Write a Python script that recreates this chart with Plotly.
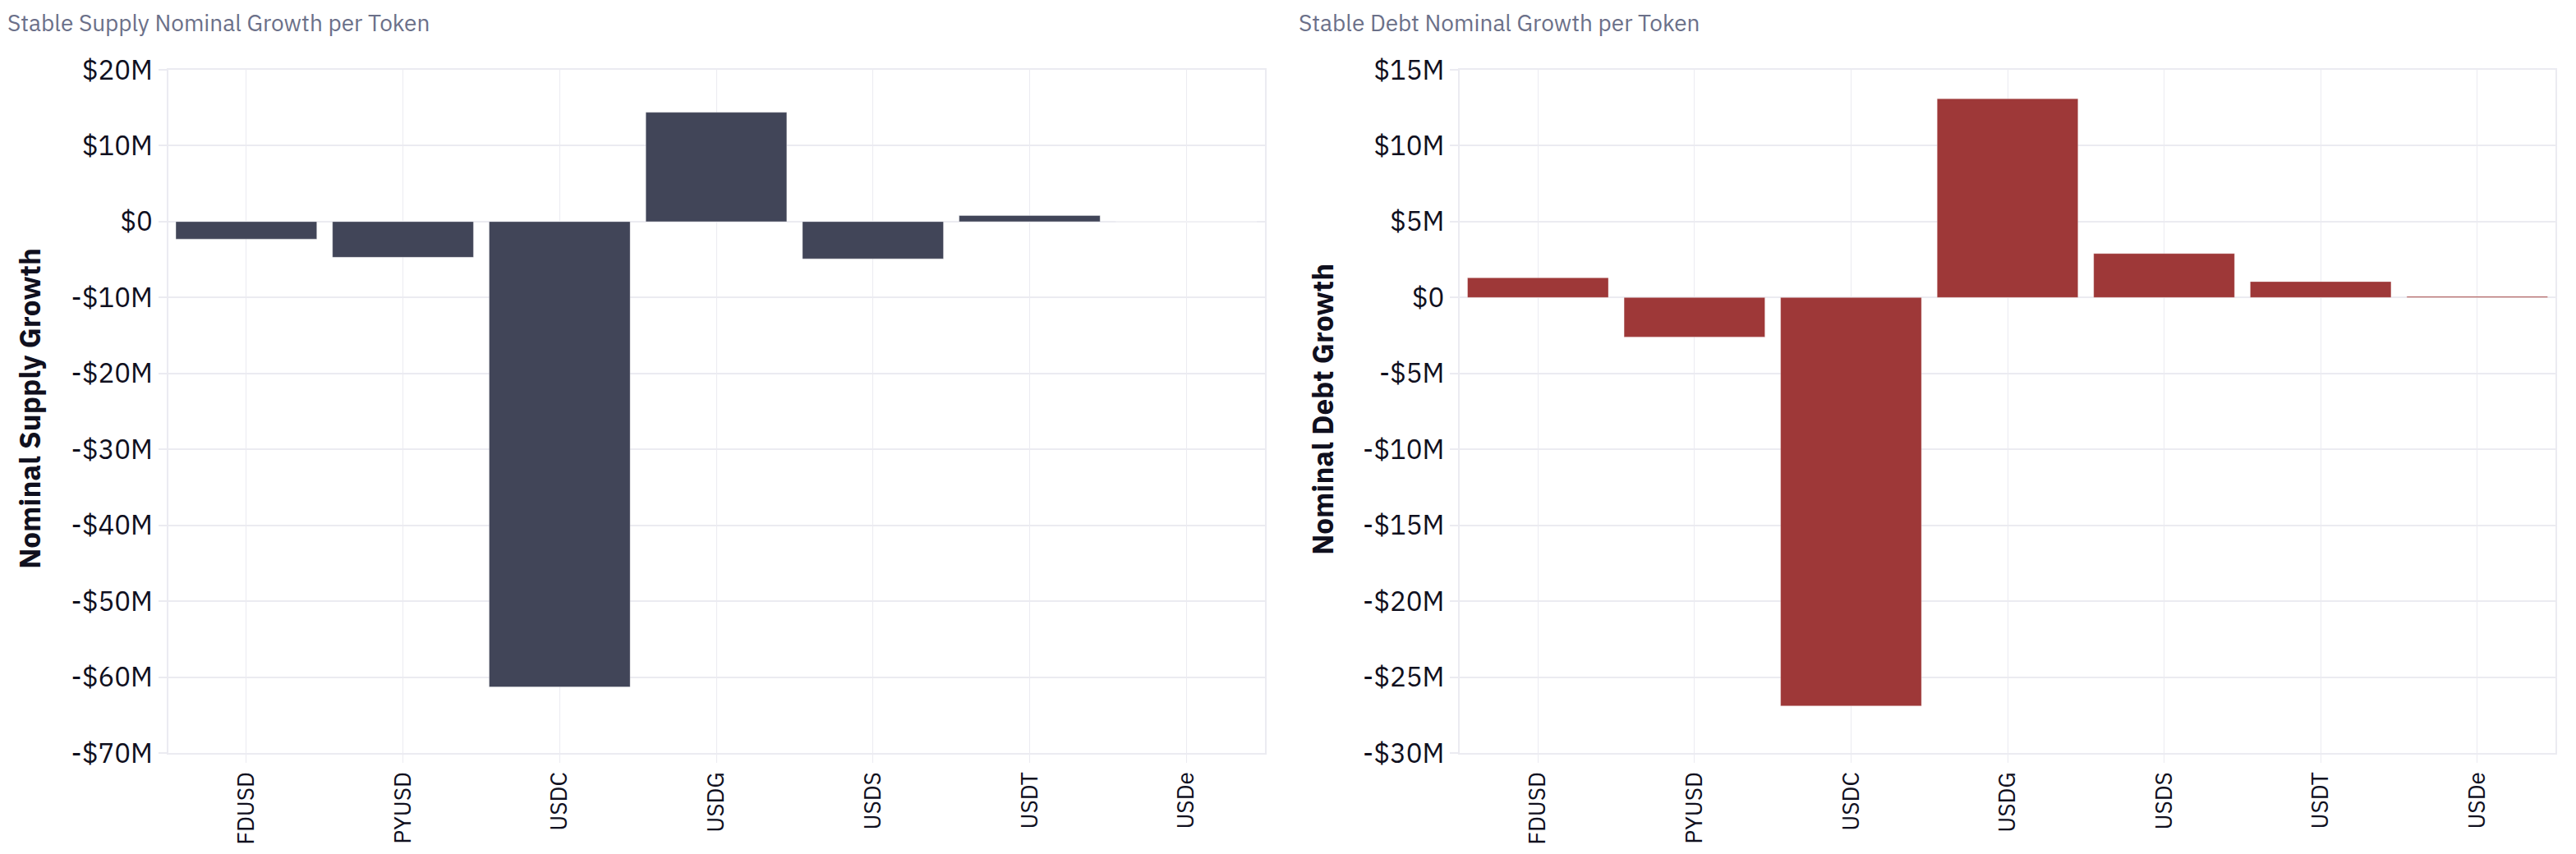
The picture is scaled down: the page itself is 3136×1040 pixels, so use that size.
import plotly.graph_objects as go

tokens = ["FDUSD", "PYUSD", "USDC", "USDG", "USDS", "USDT", "USDe"]
supply_growth = [-2.3e6, -4.7e6, -61.3e6, 14.4e6, -4.9e6, 0.8e6, 0.0]
debt_growth = [1.3e6, -2.6e6, -26.9e6, 13.1e6, 2.9e6, 1.05e6, 0.07e6]

supply_ticks = [20e6, 10e6, 0, -10e6, -20e6, -30e6, -40e6, -50e6, -60e6, -70e6]
debt_ticks = [15e6, 10e6, 5e6, 0, -5e6, -10e6, -15e6, -20e6, -25e6, -30e6]

left_title = "Stable Supply Nominal Growth per Token"
right_title = "Stable Debt Nominal Growth per Token"
left_ytitle = "Nominal Supply Growth"
right_ytitle = "Nominal Debt Growth"


def money(v):
    if v == 0:
        return "$0"
    s = "-" if v < 0 else ""
    return f"{s}${abs(v) / 1e6:g}M"


FONT = "IBM Plex Sans, Liberation Sans, Arial, sans-serif"
GRID = "#ebebf1"
TEXT = "#10101e"
OFF = 8  # page body margin
W, H = 3136 - 2 * OFF, 1040 - 2 * OFF


def px(x):
    return (x - OFF) / W


def py(y):
    return 1 - (y - OFF) / H


fig = go.Figure()
fig.add_trace(go.Bar(x=tokens, y=supply_growth, xaxis="x", yaxis="y",
                     marker=dict(color="#414558", line=dict(color="rgba(255,255,255,0.35)", width=1))))
fig.add_trace(go.Bar(x=tokens, y=debt_growth, xaxis="x2", yaxis="y2",
                     marker=dict(color="#9e3838", line=dict(color="rgba(255,255,255,0.35)", width=1))))

ydom = [py(917), py(85)]
xdom1 = [px(204.5), px(1539.5)]
xdom2 = [px(1777), px(3111)]

common_x = dict(type="category", range=[-0.5, 6.5], showgrid=True, gridcolor=GRID, gridwidth=1,
                ticks="outside", ticklen=10, tickcolor=GRID, tickwidth=1, tickangle=-90,
                showline=True, linecolor=GRID, linewidth=2, mirror=True, ticklabelstandoff=0,
                tickfont=dict(family=FONT, size=28, color=TEXT), automargin=False, zeroline=False)
common_y = dict(showgrid=True, gridcolor=GRID, gridwidth=2, ticks="outside", ticklen=10,
                tickcolor=GRID, tickwidth=2, showline=True, linecolor=GRID, linewidth=2, mirror=True,
                zeroline=True, zerolinecolor=GRID, zerolinewidth=2,
                tickfont=dict(family=FONT, size=33, color=TEXT), automargin=False)

fig.update_layout(
    width=W, height=H,
    margin=dict(l=0, r=0, t=0, b=0),
    paper_bgcolor="white", plot_bgcolor="white",
    showlegend=False, bargap=0.1,
    xaxis=dict(domain=xdom1, anchor="y", **common_x),
    xaxis2=dict(domain=xdom2, anchor="y2", **common_x),
    yaxis=dict(domain=ydom, anchor="x", range=[-70e6, 20e6], tickmode="array",
               tickvals=supply_ticks, ticktext=[money(v) for v in supply_ticks], **common_y),
    yaxis2=dict(domain=ydom, anchor="x2", range=[-30e6, 15e6], tickmode="array",
                tickvals=debt_ticks, ticktext=[money(v) for v in debt_ticks], **common_y),
    annotations=[
        dict(text=left_title, xref="paper", yref="paper", x=px(8), y=1.0,
             xanchor="left", yanchor="top", showarrow=False, borderpad=0,
             font=dict(family=FONT, size=28, color="#6b7089")),
        dict(text=right_title, xref="paper", yref="paper", x=px(1580), y=1.0,
             xanchor="left", yanchor="top", showarrow=False, borderpad=0,
             font=dict(family=FONT, size=28, color="#6b7089")),
        dict(text=f"<b>{left_ytitle}</b>", xref="paper", yref="paper", x=px(36), y=py(498),
             xanchor="center", yanchor="middle", textangle=-90, showarrow=False,
             font=dict(family=FONT, size=35, color=TEXT)),
        dict(text=f"<b>{right_ytitle}</b>", xref="paper", yref="paper", x=px(1610), y=py(498),
             xanchor="center", yanchor="middle", textangle=-90, showarrow=False,
             font=dict(family=FONT, size=35, color=TEXT)),
    ],
)

fig.write_html("out.html")
